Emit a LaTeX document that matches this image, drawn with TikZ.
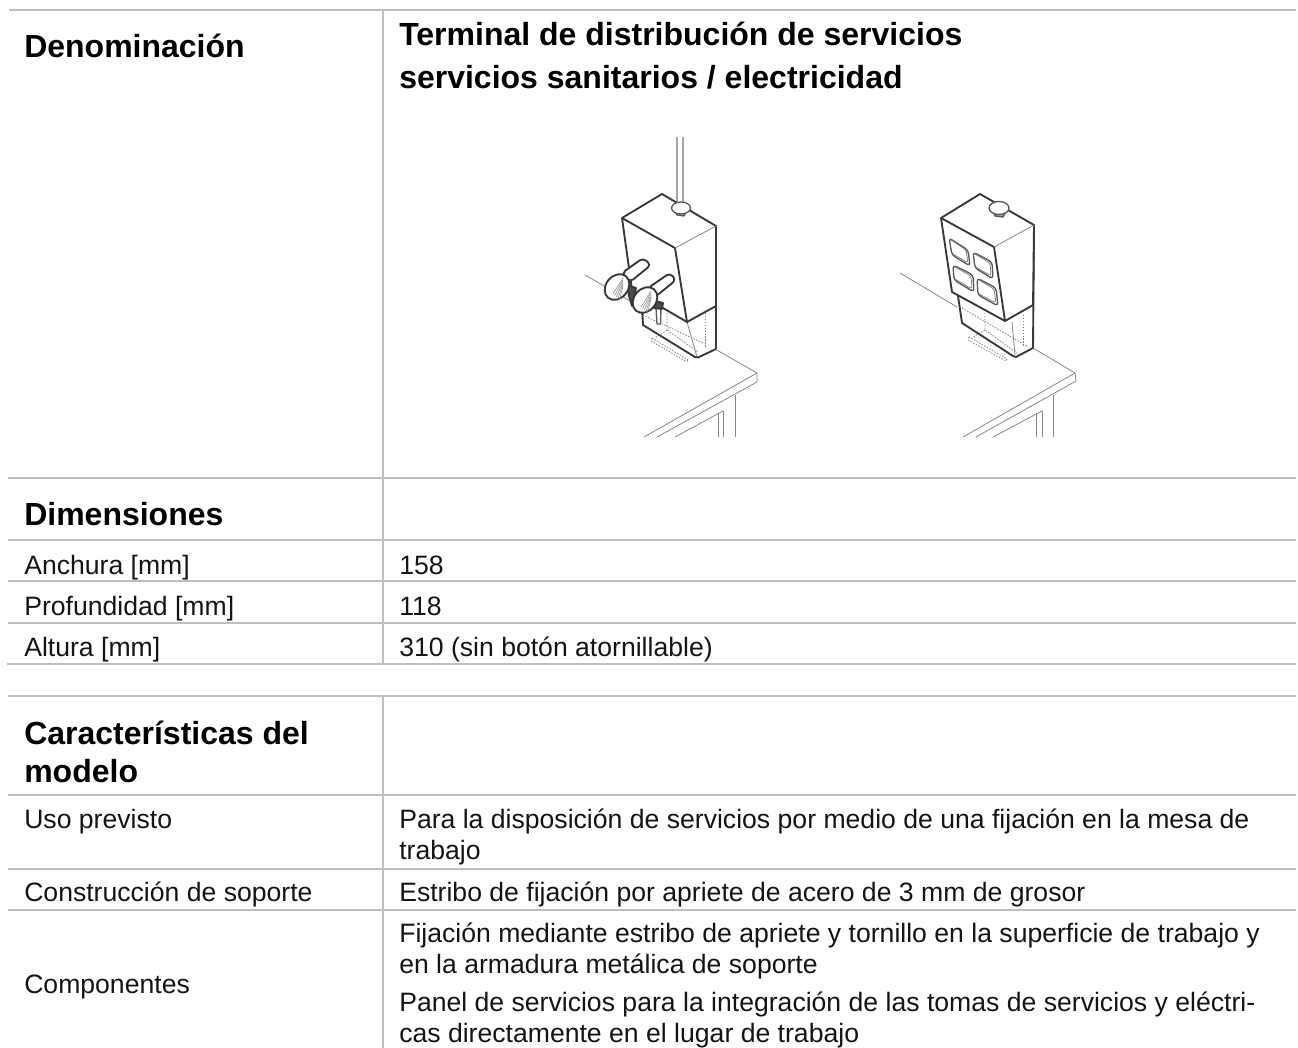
\documentclass[tikz,border=0pt]{standalone}
\usepackage{fontspec}
\setmainfont{Liberation Sans}
\tikzset{
  rowtxt/.style={anchor=base west,inner sep=0pt,font=\fontsize{19.95}{24}\selectfont,text=black!92},
  headtxt/.style={anchor=base west,inner sep=0pt,font=\fontsize{24}{28}\selectfont\bfseries,text=black},
  rule/.style={draw=black!25,line width=1.9pt},
  heavy/.style={draw=black!78,line width=1.4pt,line join=round},
  mid/.style={draw=black!65,line width=1pt,line join=round},
  thinl/.style={draw=black!48,line width=.6pt},
  hid/.style={draw=black!50,line width=.6pt,dash pattern=on 1.1pt off 1.1pt},
  hatch/.style={draw=black!40,line width=.5pt},
}
\begin{document}
\begin{tikzpicture}[x=.75pt,y=-.75pt]
\useasboundingbox (0,0) rectangle (1298,1048);
% table rules
\draw[rule] (9,10) -- (1296,10);
\draw[rule] (8,478) -- (1296,478);
\draw[rule] (8,540) -- (1296,540);
\draw[rule] (8,581) -- (1296,581);
\draw[rule] (8,623) -- (1296,623);
\draw[rule] (7,664) -- (1296,664);
\draw[rule] (8,696) -- (1296,696);
\draw[rule] (8,795) -- (1296,795);
\draw[rule] (8,869) -- (1296,869);
\draw[rule] (8,910) -- (1296,910);
\draw[rule] (383,10) -- (383,664);
\draw[rule] (383,696) -- (383,1048);
% texts
\node[headtxt] (t1) at (24,57.5) {Denominación};
\node[headtxt] (t2) at (399,46) {Terminal de distribución de servicios};
\node[headtxt] (t3) at (399,88.5) {servicios sanitarios / electricidad};
\node[headtxt] (t4) at (24,525) {Dimensiones};
\node[rowtxt] (t5) at (24,574) {Anchura [mm]};
\node[rowtxt] (t6) at (399,574) {158};
\node[rowtxt] (t7) at (24,615) {Profundidad [mm]};
\node[rowtxt] (t8) at (399,615) {118};
\node[rowtxt] (t9) at (24,656) {Altura [mm]};
\node[rowtxt] (t10) at (399,656) {310 (sin botón atornillable)};
\node[headtxt] (t11) at (24,744) {Características del};
\node[headtxt] (t12) at (24,782) {modelo};
\node[rowtxt] (t13) at (24,828) {Uso previsto};
\node[rowtxt] (t14) at (399,828) {Para la disposición de servicios por medio de una fijación en la mesa de};
\node[rowtxt] (t15) at (399,859) {trabajo};
\node[rowtxt] (t16) at (24,901) {Construcción de soporte};
\node[rowtxt] (t17) at (399,901) {Estribo de fijación por apriete de acero de 3 mm de grosor};
\node[rowtxt] (t18) at (24,993) {Componentes};
\node[rowtxt] (t19) at (399,942) {Fijación mediante estribo de apriete y tornillo en la superficie de trabajo y};
\node[rowtxt] (t20) at (399,973) {en la armadura metálica de soporte};
\node[rowtxt] (t21) at (399,1011.5) {Panel de servicios para la integración de las tomas de servicios y eléctri-};
\node[rowtxt] (t22) at (399,1042.5) {cas directamente en el lugar de trabajo};
% ---------- left terminal ----------
% desk
\draw[thinl] (715,349) -- (757,373) -- (757,382) -- (657,437);
\draw[thinl] (757,373) -- (644,437);
\draw[thinl] (735,395) -- (735,437);
\draw[thinl] (723,411) -- (723,437);
\draw[thinl] (718,413) -- (718,437);
\draw[thinl] (723,411) -- (675,437);
\draw[thinl] (585,275) -- (632,302);
% rod
\draw[thinl,draw=black!35,line width=1.1pt] (677,137) -- (677,204);
\draw[thinl,draw=black!35,line width=1.1pt] (683,137) -- (683,204);
% lower box
\draw[hid] (652,338) -- (688,360) (651,341) -- (687,362) (652,338) -- (651,341) (688,360) -- (687,362);
\draw[hid] (667,313) -- (667,330) -- (698,352);
\draw[hid] (705,313) -- (705,347);
\draw[hid] (643,315) -- (703,343);
\draw[hid] (667,330) -- (655,338);
\draw[thinl] (687,322) -- (697,357);
\draw[heavy] (642,308) -- (643,325) -- (695,357) -- (698,357.5) -- (716,349);
\draw[heavy] (716,226) -- (716,349);
% housing
\draw[heavy,fill=white] (622,218) -- (662,194) -- (716,226) -- (716,306) -- (687,322) -- (632,290) -- cycle;
\draw[heavy] (622,218) -- (675,248) -- (687,322);
\draw[thinl] (675,248) -- (716,226);
% cap knob
\draw[mid,fill=black!35] (674,208) -- (677,215) -- (684,216) -- (688,208) -- cycle;
\draw[mid,fill=white] (681,208) ellipse [x radius=9.5,y radius=6];
% tap 1
\draw[heavy,fill=black!70] (627,285) -- (636,288) -- (634,297) -- (632,306) -- (629,296) -- cycle;
\draw[heavy,fill=white,rounded corners=3pt] (622,273) -- (643,258) -- (651,265) -- (630,282) -- cycle;
\draw[heavy,fill=white] (617,287) ellipse [x radius=11,y radius=14,rotate=-40];
\foreach \a in {0,1,2,3,4}{\draw[hatch] (623,\a*2+278) -- (\a*1.6+613,\a*1.6+294);}
% tap 2
\draw[mid,fill=white] (656,308) -- (661,308) -- (660.5,324) -- (657,324) -- cycle;
\draw[heavy,fill=black!70] (652,300) -- (663,303) -- (662,309) -- (654,308) -- cycle;
\draw[heavy,fill=white,rounded corners=3pt] (648,288) -- (670,273) -- (676,280) -- (655,297) -- cycle;
\draw[heavy,fill=white] (645,300) ellipse [x radius=11,y radius=14,rotate=-40];
\foreach \a in {0,1,2,3,4}{\draw[hatch] (651,\a*2+291) -- (\a*1.6+641,\a*1.6+307);}
% ---------- right terminal ----------
% desk
\draw[thinl] (1033,348) -- (1075,373) -- (1076,381) -- (976,437);
\draw[thinl] (1075,373) -- (963,437);
\draw[thinl] (1053,395) -- (1053,437);
\draw[thinl] (1042,411) -- (1042,437);
\draw[thinl] (1036,413) -- (1036,437);
\draw[thinl] (1042,411) -- (993,437);
\draw[thinl] (900,273) -- (957,307);
% lower box
\draw[hid] (969,337) -- (1007,359) (968,340) -- (1006,361) (969,337) -- (968,340) (1007,359) -- (1006,361);
\draw[hid] (985,313) -- (985,330) -- (1017,353);
\draw[hid] (1023,315) -- (1023,347);
\draw[hid] (962,308) -- (1028,347);
\draw[hid] (985,330) -- (973,337);
\draw[thinl] (1012,322) -- (1015,355);
\draw[heavy] (958,296) -- (962,323) -- (1013,356) -- (1016,357) -- (1033,348);
\draw[heavy] (1034,225) -- (1033,348);
% housing
\draw[heavy,fill=white] (941,218) -- (980,194) -- (1034,225) -- (1033,305) -- (1005,321) -- (952,292) -- cycle;
\draw[heavy] (941,218) -- (994,247) -- (1005,321);
\draw[thinl] (994,247) -- (1034,225);
% sockets
\draw[mid,rounded corners=2.5pt] (949,238) -- (968,250) -- (970,266) -- (952,255) -- cycle;
\draw[mid,rounded corners=2.5pt] (973,252) -- (992,262) -- (993,279) -- (975,268) -- cycle;
\draw[mid,rounded corners=2.5pt] (953,265) -- (973,275) -- (974,292) -- (954,280) -- cycle;
\draw[mid,rounded corners=2.5pt] (977,278) -- (996,288) -- (998,306) -- (978,295) -- cycle;
\draw[thinl,rounded corners=2pt] (951,240) -- (966,250) -- (968,263) -- (953,254);
\draw[thinl,rounded corners=2pt] (975,254) -- (990,263) -- (991,276) -- (976,267);
\draw[thinl,rounded corners=2pt] (955,267) -- (971,276) -- (972,289) -- (955,279);
\draw[thinl,rounded corners=2pt] (979,280) -- (994,289) -- (996,303) -- (979,294);
% cap knob
\draw[mid,fill=black!35] (992,209) -- (995,216) -- (1003,217) -- (1007,209) -- cycle;
\draw[mid,fill=white] (999,208) ellipse [x radius=10,y radius=6.5];
\end{tikzpicture}
\end{document}
